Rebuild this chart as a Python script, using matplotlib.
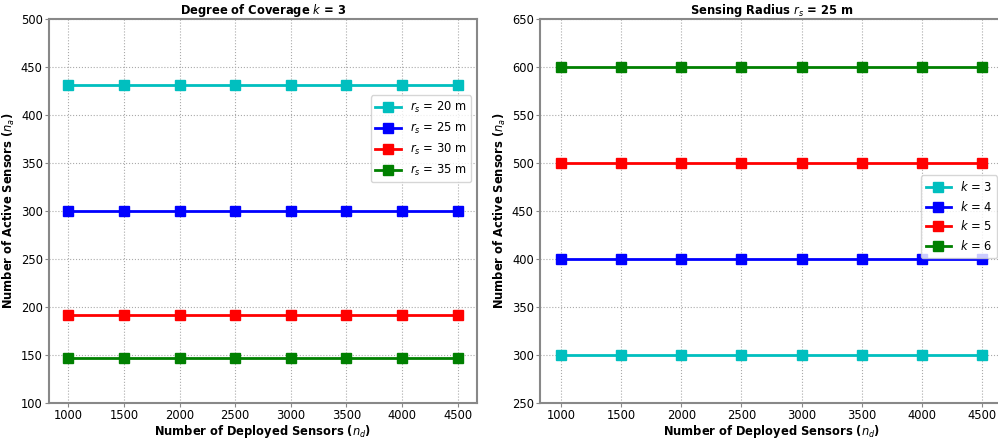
import matplotlib.pyplot as plt

## data
deployed = [1000, 1500, 2000, 2500, 3000, 3500, 4000, 4500]

left_labels = [r"$r_s$ = 20 m", r"$r_s$ = 25 m", r"$r_s$ = 30 m", r"$r_s$ = 35 m"]
left_values = [
    [431, 431, 431, 431, 431, 431, 431, 431],
    [300, 300, 300, 300, 300, 300, 300, 300],
    [192, 192, 192, 192, 192, 192, 192, 192],
    [147, 147, 147, 147, 147, 147, 147, 147],
]

right_labels = [r"$k$ = 3", r"$k$ = 4", r"$k$ = 5", r"$k$ = 6"]
right_values = [
    [300, 300, 300, 300, 300, 300, 300, 300],
    [400, 400, 400, 400, 400, 400, 400, 400],
    [500, 500, 500, 500, 500, 500, 500, 500],
    [600, 600, 600, 600, 600, 600, 600, 600],
]

colors = ['c', 'b', 'r', 'g']

W, H = 998.0, 441.0
fig = plt.figure(figsize=(W / 100, H / 100), dpi=100)
# axes placed in pixel terms (right panel runs slightly past the edge, as in the reference)
ax1 = fig.add_axes([49 / W, (H - 403) / H, (477 - 49) / W, 384 / H])
ax2 = fig.add_axes([540 / W, (H - 403) / H, (1003 - 540) / W, 384 / H])


def style(ax):
    ax.grid(True, linestyle=':', color='#aaaaaa', linewidth=0.8)
    for s in ax.spines.values():
        s.set_color('#888888')
        s.set_linewidth(1.5)
    ax.tick_params(labelsize=8.3, color='#888888', length=3, pad=1.5)
    ax.set_xlabel(r"Number of Deployed Sensors ($n_d$)", fontsize=8.3, fontweight='bold', labelpad=0.5)
    ax.set_ylabel(r"Number of Active Sensors ($n_a$)", fontsize=8.3, fontweight='bold', labelpad=3)


for vals, lab, c in zip(left_values, left_labels, colors):
    ax1.plot(deployed, vals, color=c, marker='s', markersize=7, linewidth=2, label=lab)
ax1.set_ylim(100, 500)
ax1.set_xticks(deployed)
ax1.set_title(r"Degree of Coverage $k$ = 3", fontsize=8.3, fontweight='bold', pad=3)
style(ax1)
ax1.legend(loc='upper right', bbox_to_anchor=(1.0, 0.816), fontsize=8.3, handlelength=2.2)

for vals, lab, c in zip(right_values, right_labels, colors):
    ax2.plot(deployed, vals, color=c, marker='s', markersize=7, linewidth=2, label=lab)
ax2.set_ylim(250, 650)
ax2.set_xticks(deployed)
ax2.set_title(r"Sensing Radius $r_s$ = 25 m", fontsize=8.3, fontweight='bold', pad=3)
style(ax2)
ax2.legend(loc='upper right', bbox_to_anchor=(1.0, 0.608), fontsize=8.3, handlelength=2.2)

fig.savefig("out.png", dpi=100)
